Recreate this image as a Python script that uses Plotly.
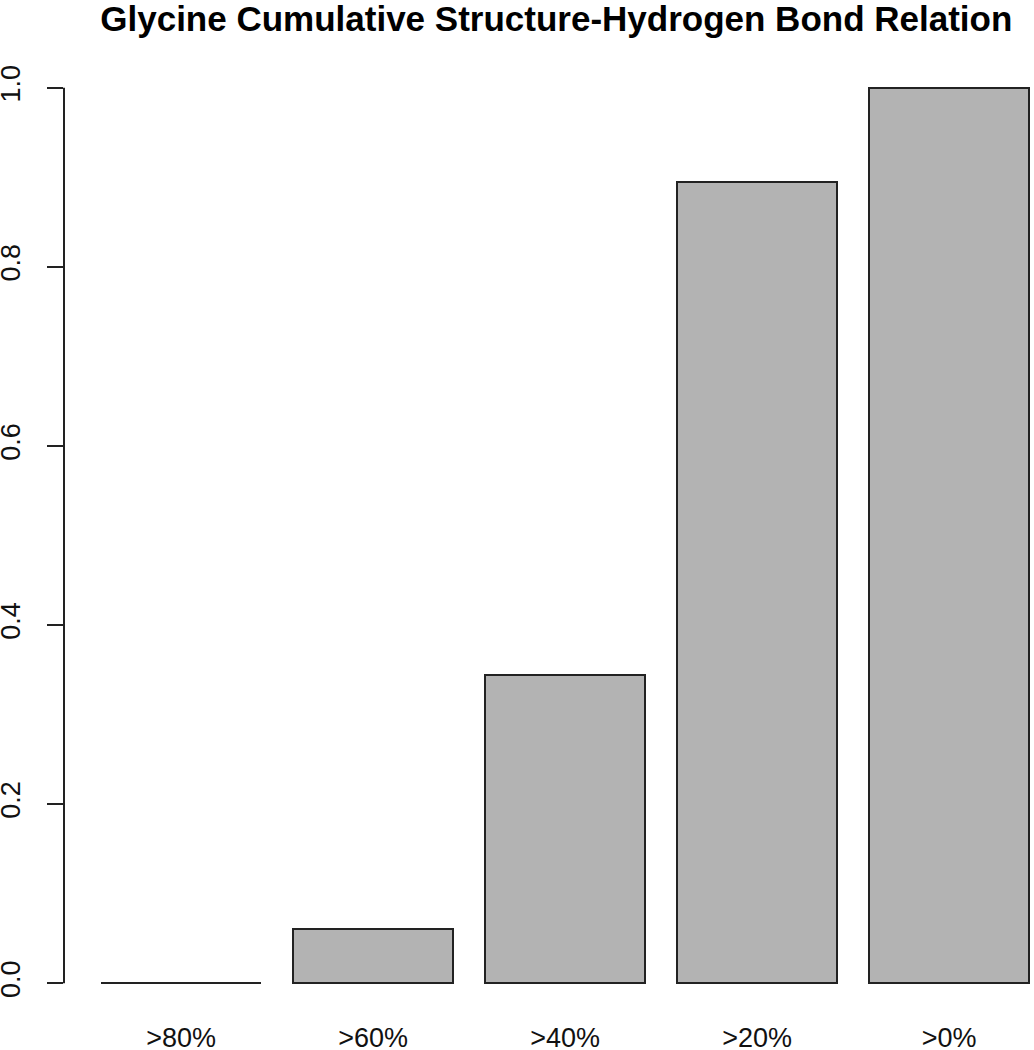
import plotly.graph_objects as go

categories = [">80%", ">60%", ">40%", ">20%", ">0%"]
values = [0.0, 0.060, 0.344, 0.895, 1.0]
y_ticks = [0.0, 0.2, 0.4, 0.6, 0.8, 1.0]

# R barplot layout: width 1, space 0.2
centers = [0.7 + 1.2 * i for i in range(len(categories))]

fig = go.Figure(go.Bar(
    x=centers, y=values, width=1.0,
    marker=dict(color="#b3b3b3", line=dict(color="#222222", width=2)),
))

fig.update_layout(
    width=1034, height=1050,
    margin=dict(l=64, r=0, t=52, b=31),
    paper_bgcolor="white", plot_bgcolor="white",
    showlegend=False,
    font=dict(family="Liberation Sans, Arial", size=27, color="#111111"),
    title=dict(
        text="<b>Glycine Cumulative Structure-Hydrogen Bond Relation</b>",
        font=dict(size=35, color="black"),
        xref="container", x=0.538, xanchor="center",
        yref="container", y=1 - 19 / 1050, yanchor="middle",
    ),
    bargap=0,
)
fig.update_xaxes(
    range=[-0.032, -0.032 + 970 / 160], showgrid=False, zeroline=False,
    tickvals=centers, ticktext=categories, ticks="", showline=False,
    automargin=False,
)
fig.update_yaxes(
    range=[-0.04, 1.04], showgrid=False, zeroline=False, showline=False,
    tickvals=y_ticks, ticktext=[f"{v:.1f}" for v in y_ticks],
    ticks="outside", ticklen=16, tickcolor="#222222", tickwidth=2,
    tickangle=-90, ticklabelstandoff=16, automargin=False,
)
# y axis line spans only the tick range, as in R
fig.add_shape(type="line", xref="paper", x0=0, x1=0, yref="y",
              y0=y_ticks[0], y1=y_ticks[-1],
              line=dict(color="#222222", width=2))

# drop the default body margin so the figure fills the window
fig.write_html("out.html", config={"displayModeBar": False},
               post_script="document.body.style.margin='0';")
